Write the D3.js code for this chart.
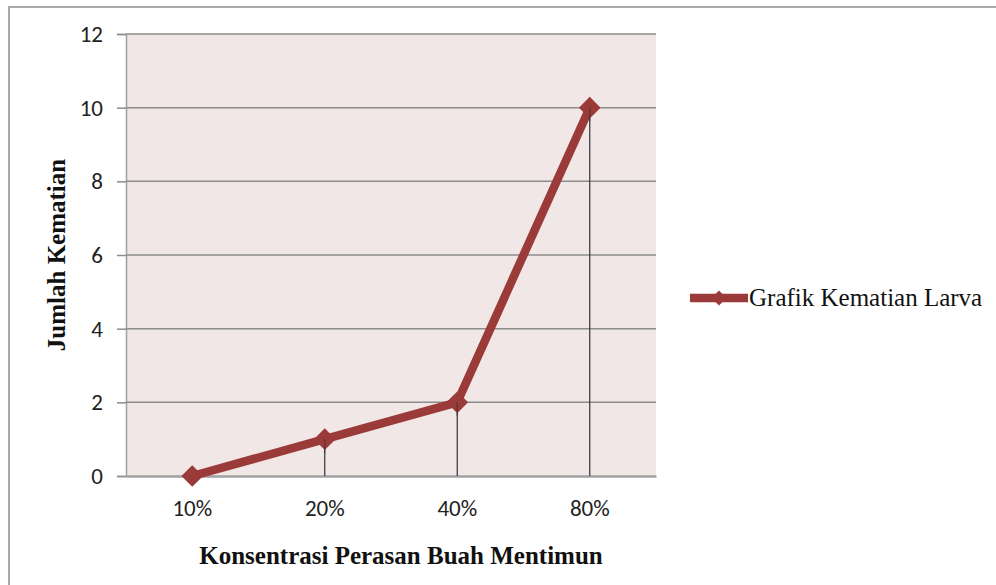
<!DOCTYPE html>
<html>
<head>
<meta charset="utf-8">
<script src="https://cdn.jsdelivr.net/npm/d3@7"></script>
<style>
  body{margin:0;background:#fff;}
  svg{display:block;}
</style>
</head>
<body>
<div id="chart"></div>
<script>
// data
const categories = ['10%','20%','40%','80%'];
const deaths = [0,1,2,10];
const yTicks = [0,2,4,6,8,10,12];
const seriesName = 'Grafik Kematian Larva';

const W = 996, H = 585;
const plot = {left:126, right:656, top:34, bottom:476};
const LINE = '#9b3b39';
const SANS = 'Carlito, Calibri, "Open Sans", "Liberation Sans", sans-serif';
const SERIF = '"Liberation Serif", "Times New Roman", serif';

const svg = d3.select('#chart').append('svg')
  .attr('width',W)
  .attr('height',H);

// outer chart frame
svg.append('rect')
  .attr('x',9).attr('y',7)
  .attr('width',W+20).attr('height',H+20)
  .attr('fill','#fff')
  .attr('stroke','#a9a9a9')
  .attr('stroke-width',2);

const x = d3.scaleBand()
  .domain(categories)
  .range([plot.left,plot.right]);

const y = d3.scaleLinear()
  .domain([0,12])
  .range([plot.bottom,plot.top]);

// plot background
svg.append('rect')
  .attr('x',plot.left).attr('y',plot.top)
  .attr('width',plot.right-plot.left)
  .attr('height',plot.bottom-plot.top)
  .attr('fill','#f2e7e7');

// gridlines + y axis
const yAxis = svg.append('g')
  .attr('transform','translate('+plot.left+',0)')
  .call(d3.axisLeft(y).tickValues(yTicks).tickSize(9).tickPadding(14)
    .tickFormat(d3.format('d')));
yAxis.select('.domain').attr('stroke','#a0a0a0').attr('stroke-width',1.5);
yAxis.selectAll('.tick line').attr('stroke','#8c8c8c').attr('stroke-width',1.5);
yAxis.selectAll('.tick text')
  .attr('font-family',SANS)
  .attr('font-size',23).attr('fill','#222');

svg.append('g').selectAll('line')
  .data(yTicks.filter(d=>d>0))
  .join('line')
  .attr('x1',plot.left).attr('x2',plot.right)
  .attr('y1',d=>y(d)).attr('y2',d=>y(d))
  .attr('stroke','#8c8c8c').attr('stroke-width',1.5);

// x axis
const xAxis = svg.append('g')
  .attr('transform','translate(0,'+plot.bottom+')')
  .call(d3.axisBottom(x).tickSize(0).tickPadding(24));
xAxis.select('.domain').attr('stroke','#a0a0a0').attr('stroke-width',2.5);
xAxis.selectAll('.tick text')
  .attr('font-family',SANS)
  .attr('font-size',23).attr('fill','#222');

const cx = d=>x(d)+x.bandwidth()/2;
const pts = categories.map((c,i)=>({c:c,v:deaths[i]}));

// drop lines
svg.append('g').selectAll('line')
  .data(pts.filter(d=>d.v>0))
  .join('line')
  .attr('x1',d=>cx(d.c)).attr('x2',d=>cx(d.c))
  .attr('y1',d=>y(d.v)).attr('y2',plot.bottom)
  .attr('stroke','#333').attr('stroke-width',1.2);

// series line
svg.append('path')
  .datum(pts)
  .attr('fill','none')
  .attr('stroke',LINE)
  .attr('stroke-width',8.5)
  .attr('stroke-linejoin','round')
  .attr('d',d3.line().x(d=>cx(d.c)).y(d=>y(d.v)));

const diamond = d3.symbol().type(d3.symbolDiamond2).size(300);

svg.append('g').selectAll('path')
  .data(pts)
  .join('path')
  .attr('transform',d=>'translate('+cx(d.c)+','+y(d.v)+')')
  .attr('d',diamond)
  .attr('fill',LINE);

// drop lines drawn over the markers
svg.append('g').selectAll('line')
  .data(pts.filter(d=>d.v>0))
  .join('line')
  .attr('x1',d=>cx(d.c)).attr('x2',d=>cx(d.c))
  .attr('y1',d=>y(d.v)).attr('y2',d=>y(d.v)+14)
  .attr('stroke','#333').attr('stroke-width',1.2)
  .attr('opacity',0.7);

// axis titles
svg.append('text')
  .attr('x',401)
  .attr('y',564)
  .attr('text-anchor','middle')
  .attr('font-family',SERIF)
  .attr('font-weight','bold')
  .attr('font-size',25)
  .attr('fill','#111')
  .text('Konsentrasi Perasan Buah Mentimun');

svg.append('text')
  .attr('transform','translate(65,'+((plot.top+plot.bottom)/2)+') rotate(-90)')
  .attr('text-anchor','middle')
  .attr('font-family',SERIF)
  .attr('font-weight','bold')
  .attr('font-size',25)
  .attr('fill','#111')
  .text('Jumlah Kematian');

// legend
const lg = svg.append('g').attr('transform','translate(690,298)');
lg.append('line')
  .attr('x1',0).attr('x2',58)
  .attr('stroke',LINE).attr('stroke-width',8.5);
lg.append('path')
  .attr('transform','translate(29,0)')
  .attr('d',d3.symbol().type(d3.symbolDiamond2).size(140))
  .attr('fill',LINE);
lg.append('text')
  .attr('x',59).attr('y',8)
  .attr('font-family',SERIF)
  .attr('font-size',25)
  .attr('fill','#111')
  .text(seriesName);
</script>
</body>
</html>
